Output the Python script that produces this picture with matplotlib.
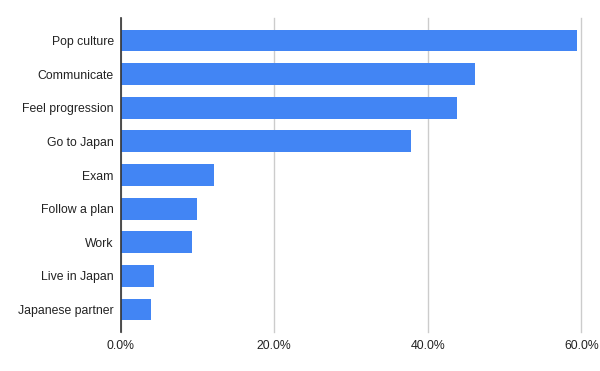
import matplotlib.pyplot as plt
from matplotlib.ticker import FuncFormatter

# Reasons for learning Japanese (share of respondents)
reasons = ["Pop culture", "Communicate", "Feel progression", "Go to Japan",
           "Exam", "Follow a plan", "Work", "Live in Japan", "Japanese partner"]
shares = [59.4, 46.1, 43.8, 37.8, 12.2, 10.0, 9.25, 4.3, 3.9]
x_ticks = [0, 20, 40, 60]

plt.rcParams["font.family"] = ["Liberation Sans", "DejaVu Sans"]

fig = plt.figure(figsize=(6, 3.71), dpi=100)
ax = fig.add_axes([0.201, 0.105, 0.768, 0.8465])

ax.barh(range(len(reasons)), shares, height=0.65, color="#4285f4", zorder=3)

ax.set_ylim(len(reasons) - 0.33, -0.67)
ax.set_xlim(0, 60)
ax.set_yticks(range(len(reasons)))
ax.set_yticklabels(reasons)
ax.set_xticks(x_ticks)
ax.xaxis.set_major_formatter(FuncFormatter(lambda v, _: "{:.1f}%".format(v)))

# Gridlines and spines in the Google Sheets style
ax.grid(axis="x", color="#cccccc", linewidth=1, zorder=0)
for line in ax.get_xgridlines():
    line.set_clip_on(False)
for side in ["top", "right", "bottom"]:
    ax.spines[side].set_visible(False)
ax.spines["left"].set_color("#333333")
ax.spines["left"].set_linewidth(1.2)
ax.spines["left"].set_zorder(4)
ax.tick_params(axis="both", length=0, labelsize=8.8, colors="#222222")
ax.tick_params(axis="y", pad=5)
ax.tick_params(axis="x", pad=6)

plt.savefig("out.png", dpi=100)
